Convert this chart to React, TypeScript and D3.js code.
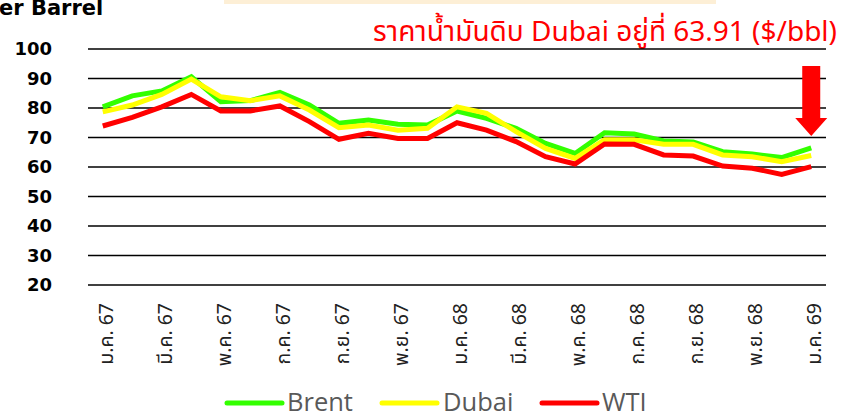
import React from 'react';
import * as d3 from 'd3';

const months = [
  'ม.ค. 67', 'ก.พ. 67', 'มี.ค. 67', 'เม.ย. 67', 'พ.ค. 67', 'มิ.ย. 67', 'ก.ค. 67', 'ส.ค. 67', 'ก.ย. 67', 'ต.ค. 67', 'พ.ย. 67', 'ธ.ค. 67',
  'ม.ค. 68', 'ก.พ. 68', 'มี.ค. 68', 'เม.ย. 68', 'พ.ค. 68', 'มิ.ย. 68', 'ก.ค. 68', 'ส.ค. 68', 'ก.ย. 68', 'ต.ค. 68', 'พ.ย. 68', 'ธ.ค. 68',
  'ม.ค. 69',
];

const brent = [80.4, 84.1, 85.8, 90.6, 82.1, 82.5, 85.3, 81.0, 74.8, 75.9, 74.5, 74.2, 79.0, 76.5, 73.1, 68.0, 64.6, 71.6, 71.2, 68.8, 68.5, 65.2, 64.4, 63.2, 66.5];
const dubai = [78.7, 81.0, 84.6, 89.8, 83.8, 82.5, 84.1, 79.3, 73.3, 74.2, 72.5, 73.1, 80.4, 78.2, 72.0, 66.3, 62.9, 69.2, 69.2, 67.7, 67.7, 64.1, 63.5, 61.8, 63.91];
const wti = [73.9, 76.8, 80.4, 84.6, 79.0, 79.0, 80.7, 75.4, 69.4, 71.4, 69.7, 69.7, 75.0, 72.5, 68.6, 63.5, 61.0, 67.8, 67.7, 64.1, 63.7, 60.3, 59.6, 57.5, 60.1];

const yTicks = [20, 30, 40, 50, 60, 70, 80, 90, 100];

const seriesList = [
  { name: 'Brent', values: brent, color: '#33ff00' },
  { name: 'Dubai', values: dubai, color: '#ffff00' },
  { name: 'WTI', values: wti, color: '#ff0000' },
];

const W = 846;
const H = 418;
const thaiFont = "Tahoma, 'Noto Sans Thai', 'Noto Sans', 'DejaVu Sans', sans-serif";

export default function App() {
  const x = d3.scalePoint<number>()
    .domain(months.map((_, i) => i))
    .range([88, 826])
    .padding(0.5);

  const y = d3.scaleLinear().domain([20, 100]).range([285, 49]);

  const line = d3.line<number>()
    .x((_, i) => x(i) as number)
    .y(d => y(d));

  const lastX = x(months.length - 1) as number;

  // legend positions
  const legend = [
    { lx: 227, tx: 287 },
    { lx: 382, tx: 443 },
    { lx: 542, tx: 602 },
  ];

  return (
    <svg width={W} height={H} style={{ position: 'absolute', left: 0, top: 0, background: '#fff' }}>
      <rect x={224} y={0} width={492} height={4} fill="#fdefd6" />

      <text x={-1} y={15} fontFamily="'DejaVu Sans', sans-serif" fontWeight="bold" fontSize={21} fill="#000">
        er Barrel
      </text>

      <text x={837} y={41} textAnchor="end" fontFamily={thaiFont} fontSize={28} fill="#ff0000">
        ราคาน้ำมันดิบ Dubai อยู่ที่ 63.91 ($/bbl)
      </text>

      {yTicks.map(t => (
        <g key={t}>
          <line x1={88} x2={826} y1={y(t)} y2={y(t)} stroke="#000" strokeWidth={1.6} />
          <text x={52} y={y(t)} dy="0.35em" textAnchor="end" fontFamily="'DejaVu Sans', sans-serif" fontWeight="bold" fontSize={18} fill="#000">
            {t}
          </text>
        </g>
      ))}

      {months.map((m, i) => i % 2 === 0 ? (
        <text
          key={m}
          transform={`translate(${(x(i) as number) + 3},303) rotate(-90)`}
          textAnchor="end"
          dy="0.35em"
          fontFamily={thaiFont}
          fontSize={19.5}
          fill="#222"
        >
          {m}
        </text>
      ) : null)}

      {seriesList.map(s => (
        <path key={s.name} d={line(s.values) || ''} fill="none" stroke={s.color} strokeWidth={5} strokeLinejoin="miter" />
      ))}

      {/* down arrow at last point */}
      <path
        d={`M${lastX - 9},66 L${lastX + 9},66 L${lastX + 9},118 L${lastX + 16},118 L${lastX},136 L${lastX - 16},118 L${lastX - 9},118 Z`}
        fill="#ff0000"
      />

      {seriesList.map((s, i) => (
        <g key={s.name}>
          <line x1={legend[i].lx} x2={legend[i].lx + 55} y1={403} y2={403} stroke={s.color} strokeWidth={5} strokeLinecap="round" />
          <text x={legend[i].tx} y={411} fontFamily="'Open Sans', sans-serif" fontSize={25.5} fill="#595959">
            {s.name}
          </text>
        </g>
      ))}
    </svg>
  );
}
